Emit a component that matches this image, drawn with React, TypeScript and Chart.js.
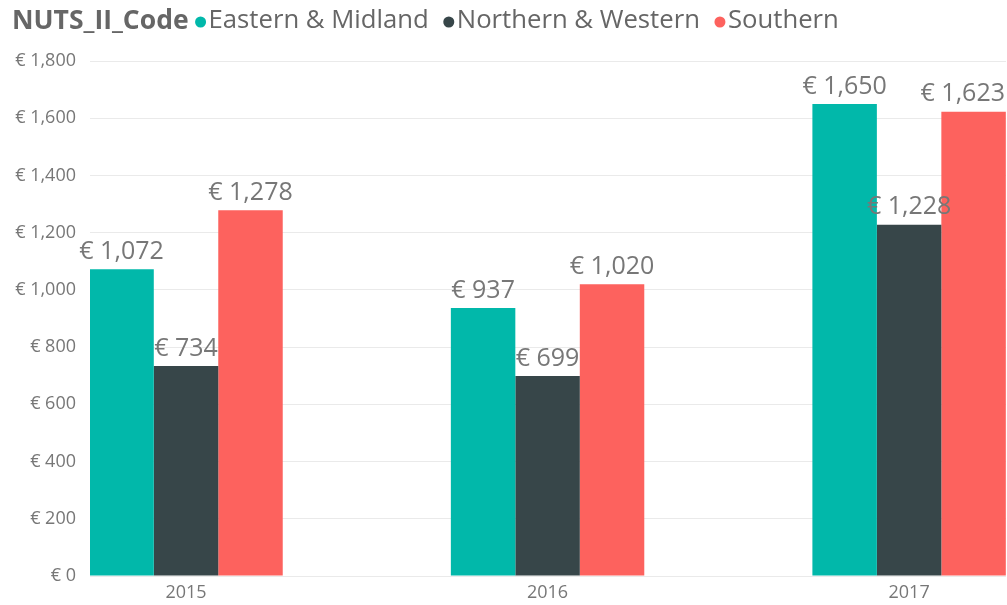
import React, { useEffect, useRef } from "react";
import { Chart, registerables } from "chart.js";

Chart.register(...registerables);

const legendTitle = "NUTS_II_Code";
const years = ["2015", "2016", "2017"];
const seriesNames = ["Eastern & Midland", "Northern & Western", "Southern"];
const seriesColors = ["#01B8AA", "#374649", "#FD625E"];
const easternMidland = [1072, 937, 1650];
const northernWestern = [734, 699, 1228];
const southern = [1278, 1020, 1623];
const yTicks = [0, 200, 400, 600, 800, 1000, 1200, 1400, 1600, 1800];

const FONT = "'Open Sans', 'Noto Sans', sans-serif";

const fmt = (v: number) => "€ " + v.toLocaleString("en-US");

const legendPlugin = {
  id: "inlineLegend",
  afterDraw(chart: any) {
    const ctx = chart.ctx;
    ctx.save();
    ctx.textBaseline = "middle";
    const y = 21;
    let x = 12;
    ctx.font = `bold 26.5px ${FONT}`;
    ctx.fillStyle = "#666666";
    ctx.textAlign = "left";
    ctx.fillText(legendTitle, x, y);
    x += ctx.measureText(legendTitle).width + 7;
    ctx.font = `25.7px ${FONT}`;
    seriesNames.forEach((name, i) => {
      ctx.fillStyle = seriesColors[i];
      ctx.beginPath();
      ctx.arc(x + 5, y + 1, 5.5, 0, Math.PI * 2);
      ctx.fill();
      x += 13;
      ctx.fillStyle = "#666666";
      ctx.fillText(name, x, y);
      x += ctx.measureText(name).width + 15;
    });
    ctx.restore();
  },
};

const labelPlugin = {
  id: "barLabels",
  afterDatasetsDraw(chart: any) {
    const ctx = chart.ctx;
    ctx.save();
    ctx.font = `25px ${FONT}`;
    ctx.fillStyle = "#777777";
    ctx.textAlign = "center";
    ctx.textBaseline = "bottom";
    chart.data.datasets.forEach((ds: any, di: number) => {
      const meta = chart.getDatasetMeta(di);
      meta.data.forEach((el: any, i: number) => {
        const text = fmt(ds.data[i].y);
        const w = ctx.measureText(text).width;
        let cx = el.x;
        if (cx + w / 2 > chart.width - 2) cx = chart.width - 2 - w / 2;
        ctx.fillText(text, cx, el.y - 5);
      });
    });
    ctx.restore();
  },
};

export default function App() {
  const ref = useRef<HTMLCanvasElement>(null);
  useEffect(() => {
    document.body.style.margin = "0";
    const all = [easternMidland, northernWestern, southern];
    const chart = new Chart(ref.current as HTMLCanvasElement, {
      type: "bar",
      data: {
        datasets: seriesNames.map((name, si) => ({
          label: name,
          data: all[si].map((v, i) => ({ x: i, y: v })),
          backgroundColor: seriesColors[si],
          categoryPercentage: 0.535,
          barPercentage: 1,
        })),
      },
      options: {
        animation: false,
        responsive: false,
        layout: { padding: { top: 61, right: 1, left: 0, bottom: 0 } },
        plugins: { legend: { display: false }, tooltip: { enabled: false } },
        scales: {
          x: {
            type: "linear",
            offset: false,
            min: -0.2656,
            max: 2.268,
            grid: { display: false, drawTicks: false, offset: false },
            border: { display: false },
            afterFit: (s: any) => {
              s.height = 29;
            },
            afterBuildTicks: (s: any) => {
              s.ticks = years.map((_, i) => ({ value: i }));
            },
            ticks: {
              autoSkip: false,
              includeBounds: false,
              padding: 6,
              color: "#777777",
              font: { family: FONT, size: 18 },
              callback: (v: any) => years[Math.round(Number(v))] ?? "",
            },
          },
          y: {
            min: 0,
            max: 1800,
            afterFit: (s: any) => {
              s.width = 90;
            },
            afterBuildTicks: (s: any) => {
              s.ticks = yTicks.map((v) => ({ value: v }));
            },
            grid: { color: "#eaeaea", lineWidth: 1, drawTicks: false },
            border: { display: false },
            ticks: {
              padding: 14,
              color: "#777777",
              font: { family: FONT, size: 18 },
              callback: (v: any) => fmt(Number(v)),
            },
          },
        },
      },
      plugins: [legendPlugin, labelPlugin],
    } as any);
    return () => chart.destroy();
  }, []);
  return <canvas ref={ref} width={1007} height={605} style={{ display: "block" }} />;
}
